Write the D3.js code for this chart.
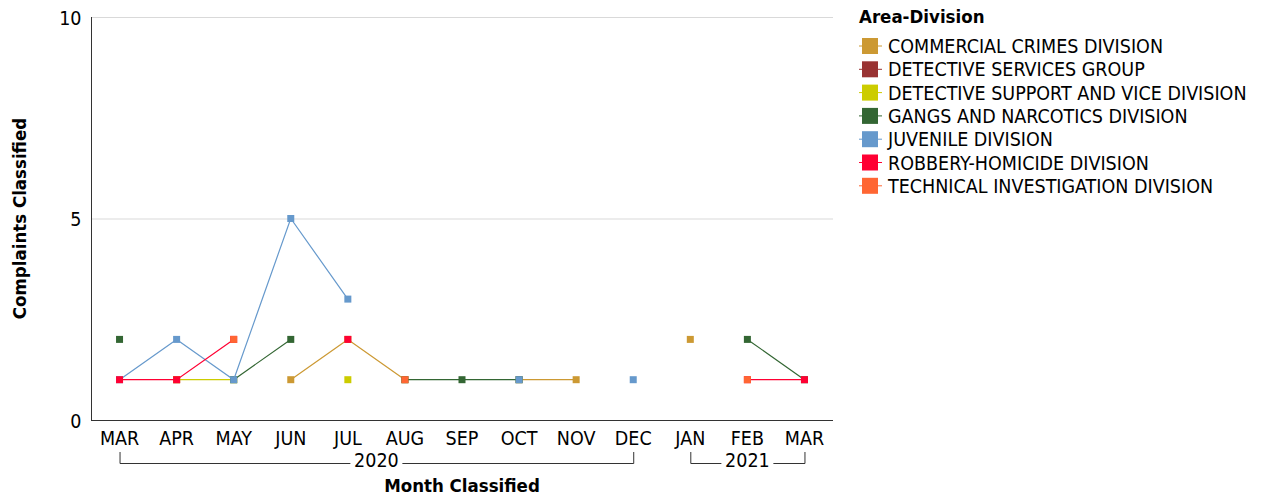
<!DOCTYPE html>
<html>
<head>
<meta charset="utf-8">
<script src="https://cdn.jsdelivr.net/npm/d3@7"></script>
<style>
  body { margin: 0; background: #fff; }
  svg text { font-family: "DejaVu Sans Condensed", "DejaVu Sans", sans-serif; fill: #000; }
</style>
</head>
<body>
<svg id="chart" width="1265" height="497"></svg>
<script>
// months on the x axis (Mar 2020 .. Mar 2021)
var months = ["MAR", "APR", "MAY", "JUN", "JUL", "AUG", "SEP", "OCT", "NOV", "DEC", "JAN", "FEB", "MAR"];
var monthKeys = ["2020-03", "2020-04", "2020-05", "2020-06", "2020-07", "2020-08", "2020-09",
                 "2020-10", "2020-11", "2020-12", "2021-01", "2021-02", "2021-03"];
var years = [
    { label: "2020", first: 0, last: 9 },
    { label: "2021", first: 10, last: 12 }
];

var divisions = [
    "COMMERCIAL CRIMES DIVISION",
    "DETECTIVE SERVICES GROUP",
    "DETECTIVE SUPPORT AND VICE DIVISION",
    "GANGS AND NARCOTICS DIVISION",
    "JUVENILE DIVISION",
    "ROBBERY-HOMICIDE DIVISION",
    "TECHNICAL INVESTIGATION DIVISION"
];
var colors = ["#cc9933", "#993333", "#cccc00", "#336633", "#6699cc", "#ff0033", "#ff6633"];

// complaints per month, null = no complaints that month
var commercialCrimes   = [null, null, null, 1, 2, 1, null, 1, 1, null, 2, null, null];
var detectiveServices  = [null, 1, null, null, null, null, null, null, null, null, null, null, null];
var detectiveSupport   = [null, 1, 1, null, 1, null, null, null, null, null, null, null, null];
var gangsNarcotics     = [2, null, 1, 2, null, 1, 1, 1, null, null, null, 2, 1];
var juvenile           = [1, 2, 1, 5, 3, null, null, 1, null, 1, null, null, null];
var robberyHomicide    = [1, 1, 2, null, 2, null, null, null, null, null, null, 1, 1];
var technicalInvest    = [null, null, 2, null, null, 1, null, null, null, null, null, 1, null];

var seriesValues = [commercialCrimes, detectiveServices, detectiveSupport, gangsNarcotics,
                    juvenile, robberyHomicide, technicalInvest];
var yTicks = [0, 5, 10];

var size = { left: 91, right: 833, top: 17, bottom: 420 };
var fontSize = "19.5px", boldSize = "18.5px";
var svg = d3.select("#chart");

var x = d3.scaleBand()
    .domain(monthKeys)
    .range([size.left, size.right]);
var y = d3.scaleLinear()
    .domain([0, 10])
    .range([size.bottom, size.top]);

// gridlines
svg.append("g")
    .selectAll("line")
    .data(yTicks.filter(d => d > 0))
    .enter()
    .append("line")
    .attr("x1", size.left)
    .attr("x2", size.right)
    .attr("y1", d => y(d) + 0.5)
    .attr("y2", d => y(d) + 0.5)
    .attr("stroke", "#d9d9d9");

// y axis
var yAxis = svg.append("g")
    .attr("transform", "translate(" + (size.left + 0.5) + ",0)")
    .call(d3.axisLeft(y).tickValues(yTicks).tickSize(0).tickPadding(10));
yAxis.select(".domain").attr("stroke", "#333").attr("d", "M0," + size.top + "V" + (size.bottom + 0.5));
yAxis.selectAll("text").style("font-size", fontSize).attr("dy", "0.36em");

// x axis
var xAxis = svg.append("g")
    .attr("transform", "translate(0," + (size.bottom + 0.5) + ")")
    .call(d3.axisBottom(x).tickFormat((d, i) => months[i]).tickSize(0).tickPadding(11));
xAxis.select(".domain").attr("stroke", "#333").attr("d", "M" + size.left + ",0H" + size.right);
xAxis.selectAll("text").style("font-size", fontSize);

// year brackets
years.forEach(function (yr) {
    var x0 = x(monthKeys[yr.first]) + x.bandwidth() / 2;
    var x1 = x(monthKeys[yr.last]) + x.bandwidth() / 2;
    var mid = (x0 + x1) / 2;
    var gap = 26;
    var g = svg.append("g").attr("stroke", "#333").attr("fill", "none");
    g.append("path").attr("d", "M" + (x0 + 0.5) + ",452V463.5H" + (mid - gap));
    g.append("path").attr("d", "M" + (mid + gap) + ",463.5H" + (x1 + 0.5) + "V452");
    svg.append("text")
        .attr("x", mid)
        .attr("y", 467)
        .attr("text-anchor", "middle")
        .style("font-size", fontSize)
        .text(yr.label);
});

// axis titles
svg.append("text")
    .attr("x", (size.left + size.right) / 2)
    .attr("y", 492)
    .attr("text-anchor", "middle")
    .style("font-size", boldSize)
    .style("font-weight", "bold")
    .text("Month Classified");
svg.append("text")
    .attr("transform", "translate(26," + ((size.top + size.bottom) / 2) + ") rotate(-90)")
    .attr("text-anchor", "middle")
    .style("font-size", boldSize)
    .style("font-weight", "bold")
    .text("Complaints Classified");

// series lines and markers
var line = d3.line()
    .defined(d => d.v !== null)
    .x(d => x(d.m) + x.bandwidth() / 2)
    .y(d => y(d.v));

seriesValues.forEach(function (vals, s) {
    var pts = vals.map((v, i) => ({ m: monthKeys[i], v: v }));
    svg.append("path")
        .datum(pts)
        .attr("d", line)
        .attr("fill", "none")
        .attr("stroke", colors[s])
        .attr("stroke-width", 1.2);
    svg.append("g")
        .selectAll("rect")
        .data(pts.filter(d => d.v !== null))
        .enter()
        .append("rect")
        .attr("x", d => x(d.m) + x.bandwidth() / 2 - 3.5)
        .attr("y", d => y(d.v) - 3.5)
        .attr("width", 7)
        .attr("height", 7)
        .attr("fill", colors[s]);
});

// legend
var legend = svg.append("g").attr("transform", "translate(859,0)");
legend.append("text")
    .attr("x", 0)
    .attr("y", 23)
    .style("font-size", boldSize)
    .style("font-weight", "bold")
    .text("Area-Division");
var item = legend.selectAll(".item")
    .data(divisions)
    .enter()
    .append("g")
    .attr("class", "item")
    .attr("transform", (d, i) => "translate(0," + (46 + i * 23.3) + ")");
item.append("line")
    .attr("x1", 0).attr("x2", 23)
    .attr("stroke", (d, i) => colors[i]);
item.append("rect")
    .attr("x", 3).attr("y", -8)
    .attr("width", 16).attr("height", 16)
    .attr("fill", (d, i) => colors[i]);
item.append("text")
    .attr("x", 29)
    .attr("dy", "0.36em")
    .style("font-size", fontSize)
    .text(d => d);
</script>
</body>
</html>
